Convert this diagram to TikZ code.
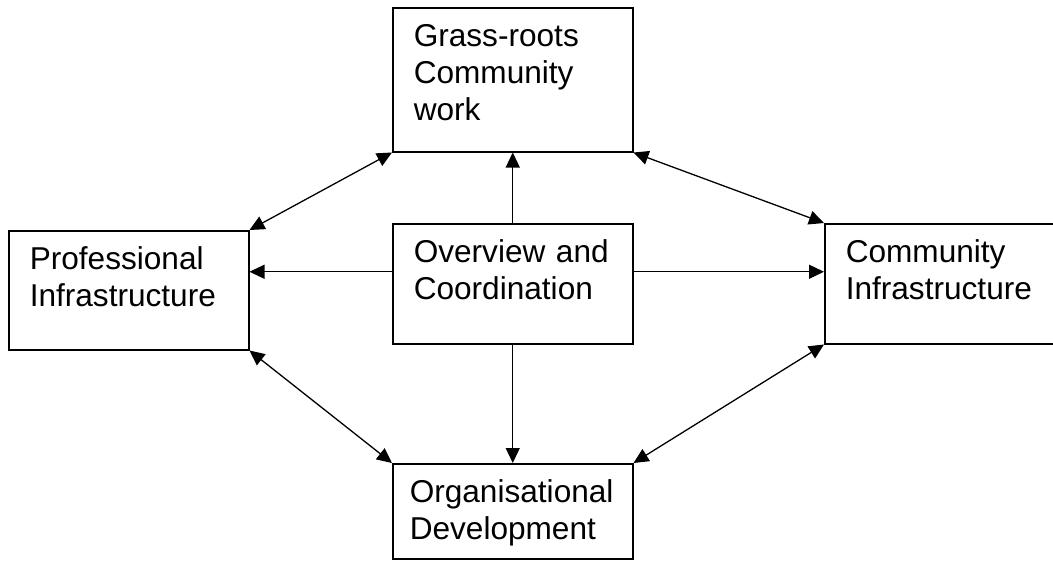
\documentclass[tikz,border=0pt]{standalone}
\usepackage{fontspec}
\setmainfont{Liberation Sans}
\usetikzlibrary{arrows.meta}
\tikzset{
  panel/.style={draw, line width=1.5pt, anchor=north west, align=left,
    inner xsep=21pt, inner ysep=16pt, text width=198pt, text height=23pt,
    font=\fontsize{31.6}{36.7}\selectfont},
  link/.style={line width=1.3pt, -{Triangle[length=15pt,width=14pt]}},
  twoway/.style={line width=1.3pt, {Triangle[length=15pt,width=14pt]}-{Triangle[length=15pt,width=14pt]}}
}
\begin{document}
\begin{tikzpicture}[x=1pt,y=-1pt]
\useasboundingbox (0,0) rectangle (1053,560);
% boxes:
\node[panel, minimum width=240pt, text depth=89pt] (grass) at (392,7) {Grass-roots\\Community\\work};
\node[panel, minimum width=240pt, text depth=64pt] (prof) at (8,230) {Professional\\Infrastructure};
\node[panel, minimum width=240pt, text depth=65pt] (over) at (392,223) {Overview and\\Coordination};
\node[panel, minimum width=260pt, text width=218pt, text depth=65pt] (comm) at (824,223) {Community\\Infrastructure};
\node[panel, minimum width=240pt, inner xsep=17pt, text width=206pt, text depth=40pt] (org) at (392,463) {Organisational\\Development};
% arrows from the centre:
\coordinate (ovl) at ([yshift=12pt]over.west);
\coordinate (ovr) at ([yshift=12pt]over.east);
\draw[link] (over.north) -- (grass.south);
\draw[link] (over.south) -- (org.north);
\draw[link] (ovl) -- (ovl -| prof.east);
\draw[link] (ovr) -- (ovr -| comm.west);
% corner links:
\draw[twoway] (grass.south west) -- (prof.north east);
\draw[twoway] (grass.south east) -- (comm.north west);
\draw[twoway] (prof.south east) -- (org.north west);
\draw[twoway] (comm.south west) -- (org.north east);
\end{tikzpicture}
\end{document}
